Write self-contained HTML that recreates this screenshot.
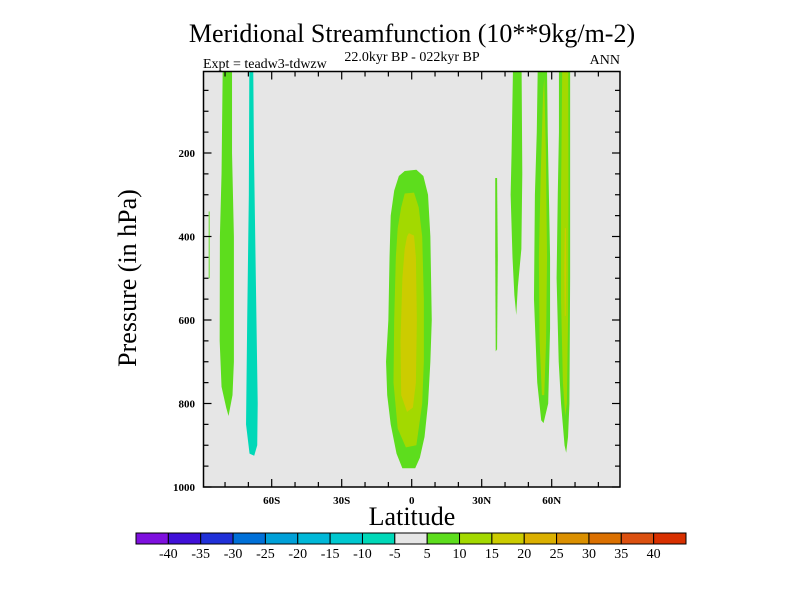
<!DOCTYPE html>
<html><head><meta charset="utf-8"><style>
body{margin:0;background:#fff}
svg{display:block;font-family:"Liberation Serif",serif}
</style></head><body>
<svg id="chart" width="800" height="600" xmlns="http://www.w3.org/2000/svg">
<text x="412" y="42" font-size="26" text-anchor="middle">Meridional Streamfunction (10**9kg/m-2)</text>
<text x="412" y="61" font-size="14" text-anchor="middle">22.0kyr BP - 022kyr BP</text>
<text x="203" y="68" font-size="14">Expt = teadw3-tdwzw</text>
<text x="620" y="64" font-size="14" text-anchor="end">ANN</text>
<text transform="translate(136,278) rotate(-90)" font-size="26" text-anchor="middle">Pressure (in hPa)</text>
<text x="412" y="525" font-size="26" text-anchor="middle">Latitude</text>
<defs><clipPath id="pc"><rect x="203.5" y="71.5" width="416.5" height="415.5"/></clipPath></defs>
<rect x="203.5" y="71.5" width="416.5" height="415.5" fill="#e6e6e6"/>
<g id="fills" clip-path="url(#pc)"></g>
<rect x="203.5" y="71.5" width="416.5" height="415.5" fill="none" stroke="#000" stroke-width="1.5"/>
<g id="axes"></g>
<g id="colorbar"></g>
</svg>
<script>
const xTickLats=[-60,-30,0,30,60];
const xTickLabels=["60S","30S","0","30N","60N"];
const yTickVals=[200,400,600,800,1000];
const yTickLabels=["200","400","600","800","1000"];
const cbColors=["#7e10de","#4010d8","#2030d8","#0070d8","#00a0d8","#00b8d8","#00c8d0","#00d8b8","#e6e6e6","#5ddd1d","#a3d900","#cccc00","#dbb000","#db9000","#db7000","#db5010","#d83000"];
const cbLabels=["-40","-35","-30","-25","-20","-15","-10","-5","5","10","15","20","25","30","35","40"];
const contourLevels=[9,9,7,7,9,10,11,9,9,9,10,9,10];
const contourNames=["sh-green-column","sh-thin-line","sh-cyan-column","sh-cyan-column-b","eq-cell-5","eq-cell-10","eq-cell-15","nh-thin-line","nh-column-a","nh-column-b","nh-column-b-inner","nh-column-c","nh-column-c-inner"];
const contourShapes=[
[[-81,0],[-77,0],[-77,200],[-76.2,400],[-76.2,700],[-76.8,780],[-78.5,830],[-79.5,810],[-81.5,760],[-82.3,650],[-82.2,400],[-81.5,250]],
[[-87,340],[-86.6,340],[-86.6,500],[-87,500]],
[[-69.6,0],[-67.9,0],[-67.6,200],[-66.8,500],[-66,800],[-66.2,900],[-67.5,925],[-69.5,920],[-71,850],[-70.5,600],[-69.8,300]],
[[-69.6,0],[-69.6,0],[-69.6,0]],
[[-3,243],[2,240],[5,255],[7,300],[8,400],[8.6,600],[8,700],[7,800],[5.5,880],[3.5,930],[1.5,955],[-4,955],[-6.5,920],[-9,850],[-10.5,780],[-11,700],[-10,600],[-9.5,450],[-9,350],[-7.5,290],[-5.5,255]],
[[-3,297],[1,295],[3,330],[4.5,400],[5.2,550],[5.2,700],[4.5,800],[2,900],[-2.5,905],[-6,860],[-7.8,750],[-7.5,600],[-6.8,450],[-6,380],[-4.5,330]],
[[-1.2,392],[1,398],[1.8,450],[2.2,600],[1.8,750],[0.5,810],[-2,820],[-4.5,780],[-4.8,650],[-4,500],[-3,430],[-2,400]],
[[35.8,260],[36.6,260],[36.9,450],[36.6,670],[36,675],[35.8,450]],
[[43.4,0],[47.1,0],[47.4,250],[47,430],[45.5,520],[44.8,588],[44,540],[43.2,450],[42.4,300],[42.8,200]],
[[54,0],[58,0],[58.3,150],[59.3,450],[59.3,620],[58.5,800],[56.5,847],[55.5,840],[53.8,750],[52.4,550],[52.8,300],[53.6,150]],
[[56.8,20],[57.5,200],[58,450],[57.6,650],[56.8,780],[55.8,780],[54.8,650],[54.5,450],[55.3,250],[56.3,60]],
[[63.1,0],[67.9,0],[67.9,500],[67.6,800],[67,880],[66.2,918],[65.5,900],[64,800],[63,700],[62.1,500],[62.6,300],[63.1,150]],
[[64.5,0],[67.1,0],[67.2,300],[67,600],[66.5,800],[65.8,830],[64.8,750],[64,550],[64,300]]
];
const x=lat=>411.7+lat*70/30;
const y=p=>69.5+p*0.4175;
const NS="http://www.w3.org/2000/svg";
function mk(tag,attrs,parent){const e=document.createElementNS(NS,tag);for(const k in attrs)e.setAttribute(k,attrs[k]);parent.appendChild(e);return e;}
const fills=document.getElementById('fills');
contourShapes.forEach((pts,i)=>{
  const e=mk('polygon',{points:pts.map(p=>x(p[0])+','+y(p[1])).join(' '),fill:cbColors[contourLevels[i]]},fills);
  
  
});
const yc=mk('polygon',{points:[[65.6,380],[66.1,380],[66.2,480],[66,590],[65.6,590],[65.4,480]].map(p=>x(p[0])+','+y(p[1])).join(' '),fill:cbColors[11]},fills);


const ax=document.getElementById('axes');
for(let lat=-80;lat<=80;lat+=10){
  const major=lat%30===0, L=major?8:5;
  const t1=mk('line',{x1:x(lat),x2:x(lat),y1:487,y2:487-L,stroke:'#000','stroke-width':1.2},ax);
  
  
  const t2=mk('line',{x1:x(lat),x2:x(lat),y1:71.5,y2:71.5+L,stroke:'#000','stroke-width':1.2},ax);
  
  
}
xTickLats.forEach((lat,i)=>{
  const t=mk('text',{x:x(lat),y:504,'font-size':11,'font-weight':'bold','text-anchor':'middle'},ax);
  t.textContent=xTickLabels[i];
  
  
});
for(let p=50;p<=1000;p+=50){
  const major=p%200===0, L=major?8:5;
  const t1=mk('line',{x1:203.5,x2:203.5+L,y1:y(p),y2:y(p),stroke:'#000','stroke-width':1.2},ax);
  
  
  const t2=mk('line',{x1:620,x2:620-L,y1:y(p),y2:y(p),stroke:'#000','stroke-width':1.2},ax);
  
  
}
yTickVals.forEach((p,i)=>{
  const t=mk('text',{x:195,y:y(p)+4,'font-size':11,'font-weight':'bold','text-anchor':'end'},ax);
  t.textContent=yTickLabels[i];
  
  
});
const cb=document.getElementById('colorbar');
const cx0=136,cw=550/cbColors.length;
cbColors.forEach((c,i)=>{
  const r=mk('rect',{x:cx0+i*cw,y:533,width:cw,height:11,fill:c,stroke:'#000','stroke-width':1},cb);
  
  
});
cbLabels.forEach((l,i)=>{
  const t=mk('text',{x:cx0+(i+1)*cw,y:558,'font-size':14,'text-anchor':'middle'},cb);
  t.textContent=l;
  
  
});
</script>
</body></html>
